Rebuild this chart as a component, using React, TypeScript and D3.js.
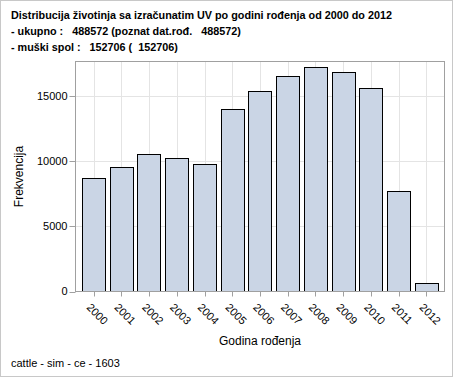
import React from "react";
import * as d3 from "d3";

const years = ["2000","2001","2002","2003","2004","2005","2006","2007","2008","2009","2010","2011","2012"];
const counts = [8740, 9580, 10570, 10270, 9760, 13960, 15340, 16540, 17230, 16800, 15630, 7690, 630];
const yTicks = [0, 5000, 10000, 15000];
const yMax = 17640;
const titleLines = [
  "Distribucija životinja sa izračunatim UV po godini rođenja od 2000 do 2012",
  "- ukupno :   488572 (poznat dat.rođ.   488572)",
  "- muški spol :   152706 (  152706)",
];
const xLabel = "Godina rođenja";
const yLabel = "Frekvencija";
const footnote = "cattle - sim - ce - 1603";

const W = 454, H = 378;
const plot = { left: 75.5, right: 444.5, top: 61.5, bottom: 291.5 };
const FONT = "'Liberation Sans', Arial, sans-serif";

export default function App() {
  const x = d3.scaleBand<string>().domain(years).range([plot.left, plot.right]).paddingInner(0.16).paddingOuter(0.23);
  const y = d3.scaleLinear().domain([0, yMax]).range([plot.bottom, plot.top]);
  const cx = (d: string) => (x(d) as number) + x.bandwidth() / 2;
  return (
    <svg width={W} height={H} style={{ position: "fixed", left: 0, top: 0, background: "#fff" }} fontFamily={FONT}>
      <rect x={0.5} y={0.5} width={452} height={376} fill="#fff" stroke="#c8c8c8" />
      {titleLines.map((t, i) => (
        <text key={i} x={11} y={19 + i * 16} fontSize={10.8} fontWeight="bold" fill="#000" style={{ whiteSpace: "pre" }}>{t}</text>
      ))}
      {/* gridlines */}
      {years.map((d) => (
        <line key={"gx" + d} x1={Math.round(cx(d)) + 0.5} x2={Math.round(cx(d)) + 0.5} y1={plot.top} y2={plot.bottom} stroke="#e4e4e4" />
      ))}
      {yTicks.filter((t) => t > 0).map((t) => (
        <line key={"gy" + t} x1={plot.left} x2={plot.right} y1={Math.round(y(t)) + 0.5} y2={Math.round(y(t)) + 0.5} stroke="#e4e4e4" />
      ))}
      {/* bars */}
      {years.map((d, i) => {
        const x0 = Math.round(x(d) as number) + 0.5;
        const w = Math.round(x.bandwidth());
        const yt = Math.round(y(counts[i])) + 0.5;
        return <rect key={"b" + d} x={x0} y={yt} width={w} height={plot.bottom - yt} fill="#cad5e5" stroke="#000" strokeWidth={1} />;
      })}
      {/* frame */}
      <rect x={plot.left} y={plot.top} width={plot.right - plot.left} height={plot.bottom - plot.top} fill="none" stroke="#a0a0a0" />
      {/* y ticks */}
      {yTicks.map((t) => (
        <g key={"yt" + t}>
          <line x1={plot.left - 6} x2={plot.left} y1={Math.round(y(t)) + 0.5} y2={Math.round(y(t)) + 0.5} stroke="#a0a0a0" />
          <text x={67.5} y={y(t)} dy="0.36em" textAnchor="end" fontSize={11} fill="#000">{t}</text>
        </g>
      ))}
      {/* x ticks */}
      {years.map((d) => (
        <g key={"xt" + d}>
          <line x1={Math.round(cx(d)) + 0.5} x2={Math.round(cx(d)) + 0.5} y1={plot.bottom} y2={plot.bottom + 5} stroke="#a0a0a0" />
          <text transform={`translate(${cx(d) - 2},${plot.bottom + 11}) rotate(45)`} dy="0.72em" textAnchor="start" fontSize={11} fill="#000">{d}</text>
        </g>
      ))}
      <text x={(plot.left + plot.right) / 2} y={345} textAnchor="middle" fontSize={12} fill="#000">{xLabel}</text>
      <text transform={`translate(23,${(plot.top + plot.bottom) / 2}) rotate(-90)`} textAnchor="middle" fontSize={12} fill="#000">{yLabel}</text>
      <text x={11} y={367} fontSize={11} fill="#000">{footnote}</text>
    </svg>
  );
}
